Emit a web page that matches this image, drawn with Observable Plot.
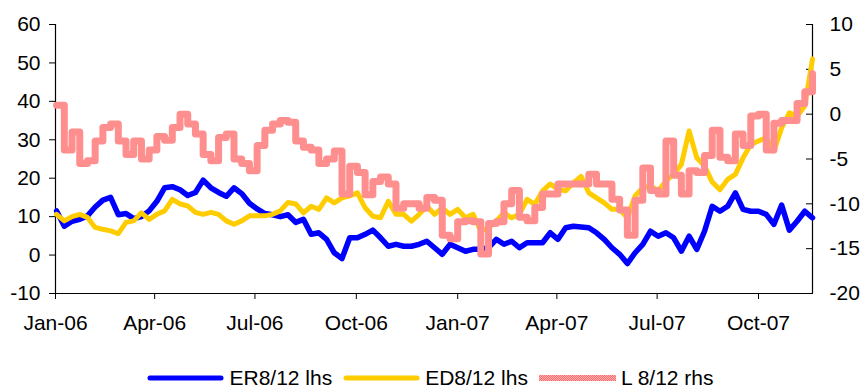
<!DOCTYPE html>
<html><head><meta charset="utf-8">
<script src="https://cdn.jsdelivr.net/npm/d3@7"></script>
<script src="https://cdn.jsdelivr.net/npm/@observablehq/plot@0.6"></script>
<style>
body{margin:0;background:#fff;font-family:"Liberation Sans",Arial,sans-serif;}
#chart{width:861px;height:390px;position:relative;overflow:hidden;}
#legend{position:absolute;left:0;top:366px;width:861px;height:24px;display:flex;justify-content:center;align-items:center;font-size:21px;color:#000;white-space:nowrap;}
.item{display:flex;align-items:center;margin-right:11px;}
.item:last-child{margin-right:0;}
.item svg{margin-right:5px;}
</style></head><body>
<div id="chart"><div id="legend"></div></div>
<script>
const dates = [
"2006-01-02","2006-01-09","2006-01-16","2006-01-23","2006-01-30","2006-02-06","2006-02-13","2006-02-20","2006-02-27",
"2006-03-06","2006-03-13","2006-03-20","2006-03-27","2006-04-03","2006-04-10","2006-04-17","2006-04-24",
"2006-05-01","2006-05-08","2006-05-15","2006-05-22","2006-05-29","2006-06-05","2006-06-12","2006-06-19","2006-06-26",
"2006-07-03","2006-07-10","2006-07-17","2006-07-24","2006-07-31","2006-08-07","2006-08-14","2006-08-21","2006-08-28",
"2006-09-04","2006-09-11","2006-09-18","2006-09-25","2006-10-02","2006-10-09","2006-10-16","2006-10-23","2006-10-30",
"2006-11-06","2006-11-13","2006-11-20","2006-11-27","2006-12-04","2006-12-11","2006-12-18","2006-12-25",
"2007-01-01","2007-01-08","2007-01-15","2007-01-22","2007-01-29","2007-02-05","2007-02-12","2007-02-19","2007-02-26",
"2007-03-05","2007-03-12","2007-03-19","2007-03-26","2007-04-02","2007-04-09","2007-04-16","2007-04-23","2007-04-30",
"2007-05-07","2007-05-14","2007-05-21","2007-05-28","2007-06-04","2007-06-11","2007-06-18","2007-06-25",
"2007-07-02","2007-07-09","2007-07-16","2007-07-23","2007-07-30","2007-08-06","2007-08-13","2007-08-20","2007-08-27",
"2007-09-03","2007-09-10","2007-09-17","2007-09-24","2007-10-01","2007-10-08","2007-10-15","2007-10-22","2007-10-29",
"2007-11-05","2007-11-12","2007-11-19"];

const erValues = [11.5,7.5,8.8,9.3,10.2,12.5,14.3,15,10.5,10.8,9.5,10,11.5,14,17.5,17.8,17,15.5,16.3,19.5,17.5,16.3,15.3,17.5,16,13.5,12,10.8,10.5,10,10.5,8.5,9.3,5.4,5.8,4.1,0.6,-0.9,4.5,4.5,5.4,6.5,4.5,2.3,2.8,2.3,2.3,2.8,3.6,1.9,0.2,2.8,1.9,1,1.5,1.5,1.9,4.1,2.8,3.6,1.9,3.2,3.2,3.2,5.8,4.1,7.1,7.5,7.3,7.1,5.8,4.1,1.9,0.2,-2.2,0.6,2.8,6.2,4.9,5.8,4.5,1,4.9,1.5,6.2,12.7,11.4,12.7,16.2,11.9,11.4,11.4,10.6,8,13,6.5,8.8,11.4,9.7];

const edValues = [10.6,8.9,10,10.6,9.8,7.2,6.7,6.3,5.6,8.5,8.9,11,9.3,10.6,11.5,14.5,13.3,12.8,11.1,10.6,11.1,10.6,8.9,8,8.9,10.2,10.2,10.2,10.6,11.5,13.7,13.3,11,12.7,11.9,14.9,13.6,14.9,15.4,16.2,12.3,10.1,9.7,14,10.6,10.6,8.8,10.6,12.7,10.6,12.3,10.6,11.9,9.7,10.6,6.2,7.1,8.8,11,9.7,10.6,14.5,13.2,16.7,18.5,17.1,16.7,18.8,20.5,16.2,14.9,13.6,11.9,11.9,9.7,15.4,17.5,18,16.7,19.3,21,23.6,32.3,25.3,23.2,19,17,19.7,21,25.3,28.8,29.7,30.5,27.1,33.1,37,36.2,38.8,51];

const lValues = [1,-4,-2,-5.5,-5.2,-3,-1.5,-1.1,-3,-4.5,-3,-5,-4,-2.5,-2.9,-1.5,0,-1.1,-2.2,-4.5,-5.2,-2.6,-2.2,-5,-5.5,-6.3,-3.5,-1.8,-1.1,-0.7,-0.9,-3,-3.7,-4,-5.5,-5,-4.1,-8.9,-5.8,-6.5,-9,-7.5,-7,-7.8,-10.5,-10,-10,-10.5,-9.3,-9.6,-13.5,-13.9,-12,-11.9,-12,-15.6,-12.2,-12,-10,-8.5,-11.5,-11.9,-10.4,-8.9,-8.9,-7.8,-7.8,-7.8,-7.8,-6.7,-7.8,-7.8,-9.5,-10.7,-13.5,-9.6,-6,-8.5,-8.9,-3,-6.8,-8.9,-6.3,-6.5,-4.6,-1.8,-4.8,-5.2,-2.2,-3.5,-0.2,0,-4,-1,-0.7,-0.7,1.2,2.5,4.5];

const leftTicks = [-10,0,10,20,30,40,50,60];
const rightTicks = [-20,-15,-10,-5,0,5,10];
const xTickDates = ["2006-01-01","2006-04-01","2006-07-01","2006-10-01","2007-01-01","2007-04-01","2007-07-01","2007-10-01"];
const xDomain = ["2006-01-01","2007-11-19"];
const seriesNames = ["ER8/12 lhs","ED8/12 lhs","L 8/12 rhs"];

const parse = d3.utcParse("%Y-%m-%d");
const toLeft = r => (r + 20) * 70 / 30 - 10;
const fromLeft = l => (l + 10) * 30 / 70 - 20;

const er = dates.map((d, i) => ({date: parse(d), v: erValues[i]}));
const ed = dates.map((d, i) => ({date: parse(d), v: edValues[i]}));
const ll = dates.map((d, i) => ({date: parse(d), v: toLeft(lValues[i])}));

const x0 = parse(xDomain[0]), x1 = parse(xDomain[1]);

const plot = Plot.plot({
  width: 861, height: 350,
  marginLeft: 55, marginRight: 49, marginTop: 24, marginBottom: 57,
  style: {fontFamily: "'Liberation Sans', Arial, sans-serif", fontSize: "21px", color: "#000", background: "#fff", overflow: "visible"},
  x: {type: "utc", domain: [x0, x1]},
  y: {domain: [-10, 60]},
  marks: [
    Plot.axisX(xTickDates.map(parse), {tickSize: 6, tickPadding: 16, tickFormat: d3.utcFormat("%b-%y"), label: null, stroke: "#000"}),
    Plot.axisY(leftTicks, {anchor: "left", tickSize: 6, tickPadding: 9, tickFormat: d => String(d), label: null, stroke: "#000"}),
    Plot.axisY(rightTicks.map(toLeft), {anchor: "right", tickSize: 7, dx: -7, tickPadding: 17, tickFormat: d => String(Math.round(fromLeft(d))), label: null, stroke: "#000"}),
    Plot.ruleX([x0], {stroke: "#000", strokeWidth: 1.2}),
    Plot.ruleX([x1], {stroke: "#000", strokeWidth: 1.2}),
    Plot.ruleY([-10], {stroke: "#000", strokeWidth: 1.2}),
    Plot.lineY(er, {x: "date", y: "v", stroke: "#0000ff", strokeWidth: 5.5, strokeLinejoin: "round", strokeLinecap: "round"}),
    Plot.lineY(ed, {x: "date", y: "v", stroke: "#ffcc00", strokeWidth: 5, strokeLinejoin: "round", strokeLinecap: "round"}),
    Plot.lineY(ll, {x: "date", y: "v", stroke: "#ff8080", strokeWidth: 7, curve: "step-after"})
  ]
});

const ns = "http://www.w3.org/2000/svg";
function makePattern(svg, id) {
  let defs = svg.querySelector("defs");
  if (!defs) { defs = document.createElementNS(ns, "defs"); svg.appendChild(defs); }
  const p = document.createElementNS(ns, "pattern");
  p.setAttribute("id", id); p.setAttribute("width", "2"); p.setAttribute("height", "2");
  p.setAttribute("patternUnits", "userSpaceOnUse");
  const cells = [[0,0,2,2,"#ff6b6b"],[0,0,1,1,"#ffb0b0"],[1,1,1,1,"#ffb0b0"]];
  for (const [cx, cy, w, h, f] of cells) {
    const r = document.createElementNS(ns, "rect");
    r.setAttribute("x", cx); r.setAttribute("y", cy); r.setAttribute("width", w); r.setAttribute("height", h); r.setAttribute("fill", f);
    p.appendChild(r);
  }
  defs.appendChild(p);
}
makePattern(plot, "lhatch");
const lineGroups = plot.querySelectorAll('g[aria-label="line"]');
const pinkGroup = lineGroups[lineGroups.length - 1];
if (pinkGroup) {
  pinkGroup.setAttribute("stroke", "url(#lhatch)");
  pinkGroup.querySelectorAll("path").forEach(p => p.setAttribute("stroke", "url(#lhatch)"));
}

const chart = document.getElementById("chart");
chart.insertBefore(plot, chart.firstChild);

const legend = document.getElementById("legend");
const swatches = [
  {color: "#0000ff", w: 5, round: true},
  {color: "#ffcc00", w: 5, round: true},
  {color: "url(#lghatch)", w: 6, round: false}
];
seriesNames.forEach((name, i) => {
  const item = document.createElement("div");
  item.className = "item";
  const s = document.createElementNS(ns, "svg");
  s.setAttribute("width", "77"); s.setAttribute("height", "10");
  if (i === 2) makePattern(s, "lghatch");
  const ln = document.createElementNS(ns, "line");
  const sw = swatches[i];
  ln.setAttribute("x1", sw.round ? 3 : 0); ln.setAttribute("x2", sw.round ? 74 : 77);
  ln.setAttribute("y1", 5); ln.setAttribute("y2", 5);
  ln.setAttribute("stroke", sw.color); ln.setAttribute("stroke-width", sw.w);
  if (sw.round) ln.setAttribute("stroke-linecap", "round");
  s.appendChild(ln);
  item.appendChild(s);
  const t = document.createElement("span");
  t.textContent = name;
  item.appendChild(t);
  legend.appendChild(item);
});
</script>
</body></html>
